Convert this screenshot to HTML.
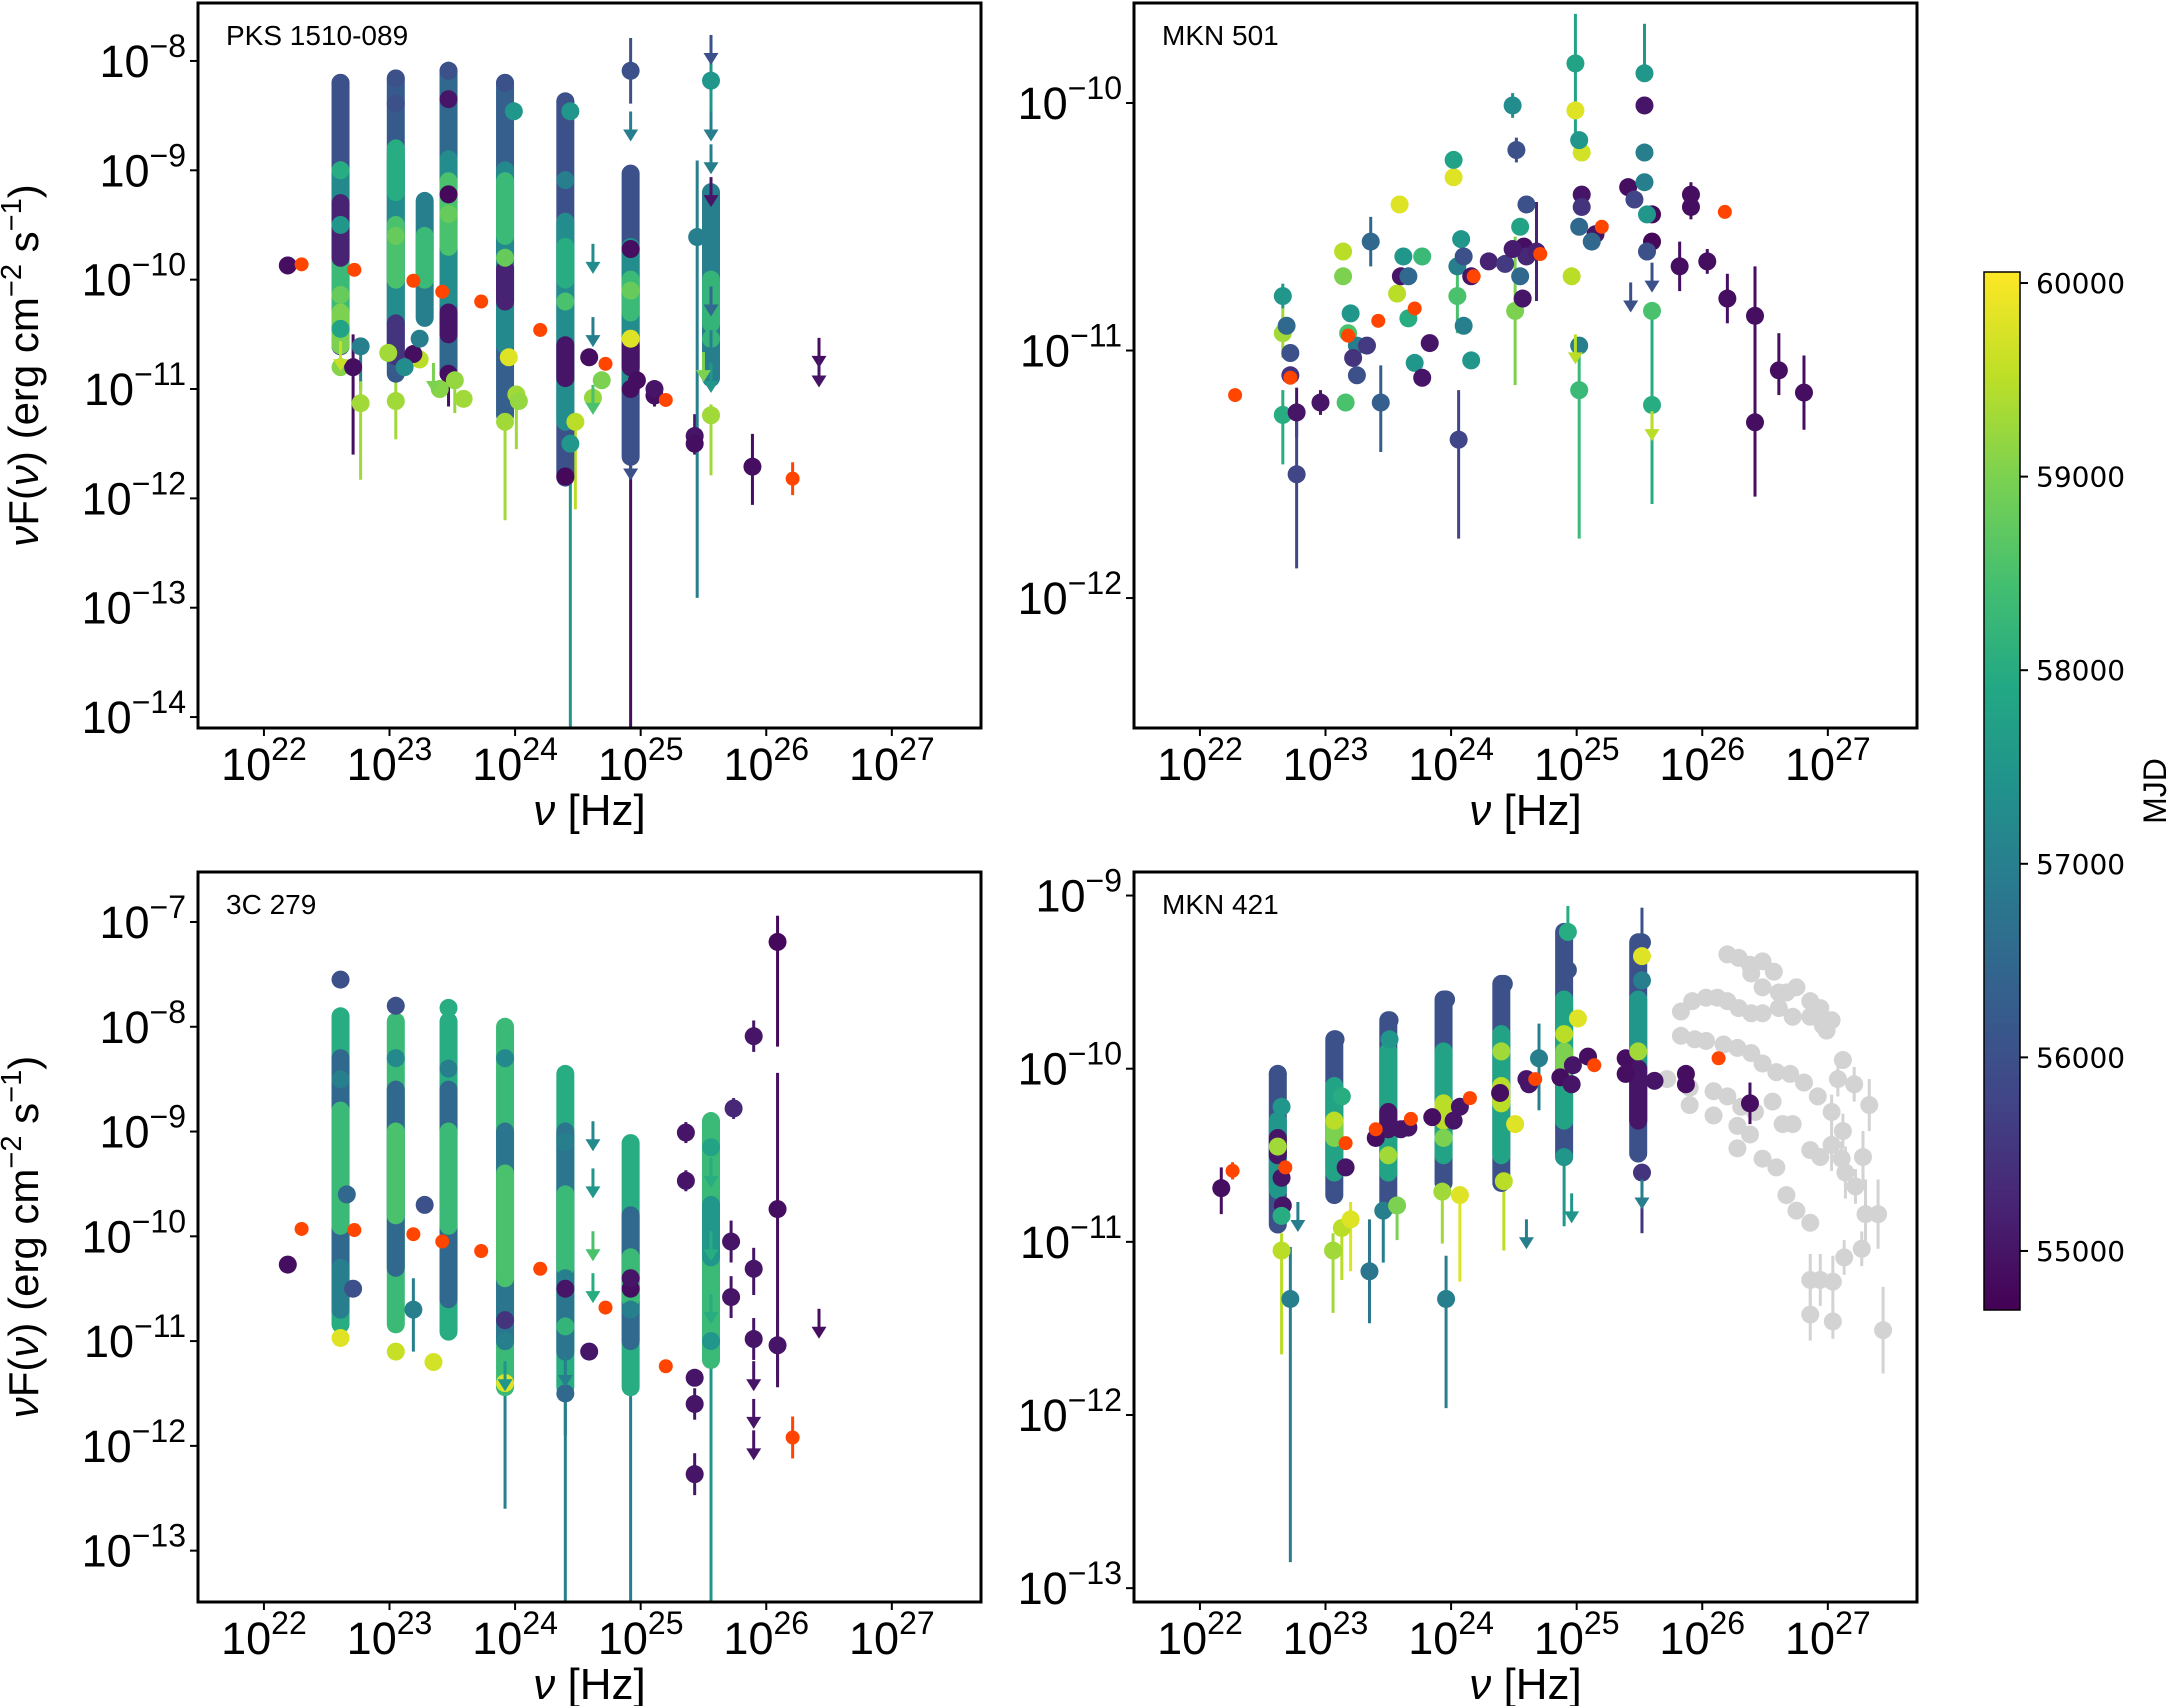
<!DOCTYPE html>
<html><head><meta charset="utf-8"><title>Blazar SEDs</title>
<style>
html,body{margin:0;padding:0;background:#fff;}
svg{display:block;font-family:"Liberation Sans","DejaVu Sans",sans-serif;}
</style></head>
<body>
<svg id="fig" width="2170" height="1706" viewBox="0 0 2170 1706" xmlns="http://www.w3.org/2000/svg"></svg>
<script>
// ---------- DATA (log10 nu [Hz], log10 nuFnu, MJD, err-down dex, err-up dex) ----------
const xTicks=[22,23,24,25,26,27];
const cbTicks=[55000,56000,57000,58000,59000,60000];
// PKS 1510-089
const p1Bands=[[22.61,-10.61,-8.20,56000],[22.61,-10.3,-9.0,57200],[22.61,-10.5,-9.6,58300],[22.61,-9.8,-9.3,55200],[22.61,-10.6,-10.3,59000],
[23.05,-10.86,-8.16,56200],[23.05,-10.4,-8.9,57300],[23.05,-10.0,-9.5,58500],[23.05,-9.2,-8.8,58000],[23.05,-10.7,-10.4,55500],
[23.28,-10.35,-9.28,57000],[23.28,-10.0,-9.6,58300],
[23.47,-10.86,-8.09,56500],[23.47,-10.2,-8.9,57300],[23.47,-9.7,-9.1,58500],[23.47,-10.5,-10.3,55000],
[23.92,-11.24,-8.20,56300],[23.92,-10.6,-9.0,57200],[23.92,-9.6,-9.1,58300],[23.92,-10.2,-9.9,55200],
[24.40,-11.81,-8.37,56000],[24.40,-11.3,-9.47,57300],[24.40,-10.0,-9.7,58000],[24.40,-10.9,-10.6,55000],
[24.92,-11.62,-9.03,56000],[24.92,-11.0,-9.7,57300],[24.92,-10.3,-10.0,58300],[24.92,-10.8,-10.6,55000],
[25.56,-10.9,-9.2,57000],[25.56,-10.4,-10.0,58200]];
const p1Pts=[[22.61,-8.2,56000,0,0],[22.19,-9.87,54900,0.08,0.08],[22.61,-10.6,59000,0,0],[22.61,-10.8,59100,0,0],[22.71,-10.8,54900,0.8,0.3],[22.77,-10.61,57000,0.4,0],[22.77,-11.13,59300,0.7,0.2],[22.61,-10.14,58800,0,0],[23.05,-8.16,56000,0,0],[23.05,-8.39,56000,0,0],[23.05,-11.11,59300,0.35,0.2],[22.99,-10.67,59300,0,0],[23.24,-10.73,59500,0,0],[23.19,-10.68,54900,0,0],[23.24,-10.54,57000,0,0],[23.12,-10.8,57300,0,0],[23.47,-8.09,56000,0,0],[23.47,-9.22,54800,0,0],[23.47,-10.86,54900,0.3,0],[23.52,-10.92,59200,0.3,0],[23.59,-11.09,59300,0,0],[23.40,-11.0,59100,0,0],[23.92,-8.2,56000,0,0],[23.99,-8.46,57500,0,0],[23.92,-11.3,59300,0.9,0.3],[23.95,-10.71,59800,0,0],[24.01,-11.05,59300,0.5,0],[24.03,-11.11,59200,0,0],[24.40,-8.37,56000,0,0],[24.44,-8.46,57500,0,0],[24.40,-9.09,57000,0,0],[24.40,-11.8,54800,0,0.3],[24.44,-11.5,57500,2.6,0.6],[24.59,-10.71,54900,0,0],[24.69,-10.92,59000,0,0],[24.62,-11.08,59200,0,0],[24.48,-11.3,59500,0.8,0],[24.92,-8.09,56000,0.3,0.3],[24.92,-10.54,59800,0,0],[24.92,-11.0,54900,0.2,0],[24.92,-9.72,54900,4.4,0],[24.97,-10.92,54900,0,0],[25.11,-11.06,54900,0.1,0.1],[25.11,-11.0,55000,0,0],[25.43,-11.43,55000,0.15,0.2],[25.43,-11.5,54900,0.1,0.1],[25.45,-9.61,57000,3.3,0.7],[25.56,-8.18,57500,0.35,0.4],[25.56,-11.24,59300,0.55,0.1],[25.56,-10.54,58200,0,0],[25.89,-11.71,54900,0.35,0.3],
[22.61,-9.0,58000,0,0],[22.61,-9.5,57500,0,0],[23.05,-9.6,58800,0,0],[23.47,-9.4,58800,0,0],[23.92,-9.8,58800,0,0],[24.40,-10.2,58500,0,0],[24.92,-10.1,58800,0,0],[23.47,-8.35,55000,0,0],[22.61,-10.45,57800,0,0]];
const p1UL=[[24.62,-9.91,57300],[24.62,-10.58,57000],[24.62,-11.2,58500],[24.92,-8.7,57000],[24.92,-11.8,56000],[25.56,-8.0,56000],[25.56,-8.7,57000],[25.56,-9.0,57000],[25.56,-9.3,55000],[25.56,-10.3,56500],[25.56,-10.7,57000],[25.56,-11.0,57500],[25.50,-10.9,59000],[26.42,-10.77,54900],[26.42,-10.95,55000],[23.35,-11.0,59000],[22.61,-10.8,59600]];
const p1Ref=[[22.30,-9.86,0.03],[22.72,-9.91,0.03],[23.19,-10.01,0.03],[23.42,-10.11,0.03],[23.73,-10.20,0.03],[24.20,-10.46,0.03],[24.72,-10.77,0.03],[25.20,-11.10,0.03],[26.21,-11.82,0.15]];
// MKN 501
const p2Bands=[];
const p2Pts=[[22.66,-10.78,57500,0.05,0.05],[22.66,-10.93,59300,0.1,0.1],[22.72,-11.01,56000,0,0],[22.66,-11.26,58000,0.2,0.1],[22.77,-11.25,55000,0.1,0.1],[22.77,-11.50,55800,0.38,0.25],[22.96,-11.21,55000,0.05,0.05],[23.14,-10.60,59500,0,0],[23.14,-10.70,59000,0,0],[23.18,-10.93,58500,0,0],[23.25,-10.98,57000,0,0],[23.16,-11.21,58500,0,0],[23.22,-11.03,55500,0,0],[23.33,-10.98,55600,0,0],[23.44,-11.21,56300,0.2,0.15],[23.36,-10.56,56500,0.1,0.1],[23.57,-10.77,59500,0,0],[23.60,-10.70,55000,0,0],[23.66,-10.87,58000,0,0],[23.59,-10.41,59800,0,0],[23.71,-11.05,57500,0,0],[23.77,-11.11,55000,0,0],[23.83,-10.97,55000,0,0],[23.77,-10.62,58300,0,0],[24.05,-10.66,57000,0,0],[24.05,-10.78,58500,0.15,0.15],[24.02,-10.30,59800,0,0],[24.02,-10.23,57800,0,0],[24.06,-11.36,55800,0.4,0.2],[24.10,-10.90,57000,0,0],[24.16,-11.04,57500,0,0],[24.16,-10.70,55000,0,0],[24.30,-10.64,55200,0,0],[24.43,-10.65,55600,0,0],[24.49,-10.01,57300,0.05,0.05],[24.52,-10.19,56000,0.05,0.05],[24.58,-10.58,54900,0,0],[24.60,-10.41,56000,0,0],[24.51,-10.84,59000,0.3,0.3],[24.57,-10.79,55000,0,0],[24.60,-10.62,55300,0,0],[24.68,-10.60,55200,0.2,0.2],[24.49,-10.59,55100,0,0],[24.99,-9.84,57800,0.3,0.2],[24.99,-10.03,59800,0,0],[25.04,-10.20,59700,0,0],[25.04,-10.37,55000,0,0],[24.96,-10.70,59500,0,0],[25.02,-11.16,58300,0.6,0.2],[25.02,-10.98,57000,0,0],[25.04,-10.42,55500,0,0],[25.15,-10.53,55000,0,0],[25.12,-10.56,56500,0,0],[25.41,-10.34,54900,0,0],[25.46,-10.39,55800,0,0],[25.54,-9.88,57500,0,0.2],[25.54,-10.01,55000,0,0],[25.54,-10.20,57000,0,0],[25.54,-10.32,57000,0,0],[25.60,-10.56,54800,0,0],[25.60,-10.45,54800,0,0],[25.60,-11.22,58000,0.4,0.4],[25.60,-10.84,58500,0,0],[25.82,-10.66,54900,0.1,0.1],[25.91,-10.37,54900,0.05,0.05],[25.91,-10.42,54900,0.05,0.05],[26.04,-10.64,54900,0.05,0.05],[26.20,-10.79,54900,0.1,0.1],[26.42,-10.86,54900,0.2,0.2],[26.42,-11.29,54900,0.3,0.3],[26.61,-11.08,54900,0.1,0.15],[26.81,-11.17,54900,0.15,0.15],
[22.69,-10.9,56500,0,0],[22.72,-11.1,55500,0,0],[23.20,-10.85,57500,0,0],[23.25,-11.1,56000,0,0],[23.62,-10.62,57500,0,0],[23.66,-10.7,56500,0,0],[24.08,-10.55,57500,0,0],[24.10,-10.62,56000,0,0],[24.55,-10.5,57800,0,0],[24.55,-10.7,56500,0,0],[25.02,-10.15,57500,0,0],[25.02,-10.5,56500,0,0],[25.56,-10.45,57500,0,0],[25.56,-10.6,56000,0,0]];
const p2UL=[[25.43,-10.83,56000],[24.99,-11.04,59500],[25.60,-11.35,59500],[25.60,-10.75,56000]];
const p2Ref=[[22.28,-11.18,0.03],[22.72,-11.11,0.03],[23.18,-10.94,0.03],[23.42,-10.88,0.03],[23.71,-10.83,0.03],[24.18,-10.70,0.03],[24.71,-10.61,0.03],[25.20,-10.50,0.03],[26.18,-10.44,0.03]];
// 3C 279
const p3Bands=[[22.61,-10.84,-7.9,58000],[22.61,-10.6,-8.3,56500],[22.61,-9.9,-8.8,58300],[22.61,-10.7,-10.3,57000],
[23.05,-10.84,-7.95,58300],[23.05,-10.3,-8.6,56500],[23.05,-9.8,-9.0,58500],
[23.47,-10.91,-7.95,58000],[23.47,-10.6,-8.6,56500],[23.47,-9.9,-9.0,58300],
[23.92,-11.44,-8.0,58300],[23.92,-11.0,-9.0,56800],[23.92,-10.4,-9.4,58500],
[24.40,-11.44,-8.45,58000],[24.40,-11.1,-9.0,56800],[24.40,-10.3,-9.6,58300],
[24.92,-11.44,-9.11,58000],[24.92,-11.0,-9.8,56500],[24.92,-10.6,-10.2,58300],
[25.56,-11.18,-8.9,58300],[25.56,-10.2,-9.7,57500]];
const p3Pts=[[22.61,-7.55,56000,0,0],[22.61,-10.97,59800,0,0],[22.71,-10.5,56000,0,0],[23.05,-7.8,56000,0,0],[23.05,-11.1,59600,0,0],[23.19,-10.7,57000,0.4,0.3],[23.35,-11.2,59700,0,0],[23.28,-9.7,56000,0,0],[23.47,-7.82,58000,0,0],[23.92,-11.4,59800,0,0],[23.92,-11.0,57000,1.6,0.4],[24.40,-10.86,58200,0,0],[24.40,-11.5,56500,0.4,0.3],[24.40,-10.4,57000,3.1,0.4],[24.59,-11.1,55000,0,0],[24.92,-10.5,54900,0,0],[24.92,-10.7,57000,2.8,0.3],[22.19,-10.27,54900,0.05,0.05],[25.36,-9.01,55000,0.1,0.1],[25.36,-9.47,55000,0.1,0.1],[25.43,-11.35,55000,0,0],[25.43,-11.60,55000,0.15,0.15],[25.43,-12.27,55000,0.2,0.2],[25.56,-9.15,57800,0.2,0.2],[25.56,-11.0,57500,2.5,0],[25.72,-10.05,55000,0.2,0.2],[25.72,-10.58,55000,0.2,0.2],[25.74,-8.78,55300,0.1,0.1],[25.90,-8.09,55000,0.15,0.15],[25.90,-10.31,55000,0.25,0.2],[25.90,-10.98,55000,0.2,0.2],[26.09,-7.19,54800,1.0,0.25],[26.09,-9.74,54900,1.7,1.3],[26.09,-11.04,55000,0.3,0.3],
[22.61,-8.5,57000,0,0],[22.66,-9.6,56500,0,0],[23.05,-8.3,57200,0,0],[23.47,-8.4,57000,0,0],[23.92,-8.3,57200,0,0],[23.92,-10.8,55500,0,0],[24.40,-10.5,55000,0,0],[24.92,-10.4,55000,0,0],[24.40,-9.1,57000,0,0]];
const p3UL=[[24.62,-9.15,57200],[24.62,-9.6,57500],[24.62,-10.2,58500],[24.62,-10.6,58000],[24.92,-11.4,58000],[25.56,-9.5,58000],[25.56,-10.2,58000],[25.56,-10.8,58000],[25.90,-11.44,55000],[25.90,-11.8,55000],[25.90,-12.1,55000],[26.42,-10.94,54900],[24.40,-11.4,57000],[23.92,-11.44,57500]];
const p3Ref=[[22.30,-9.93,0.03],[22.72,-9.94,0.03],[23.19,-9.98,0.03],[23.42,-10.05,0.03],[23.73,-10.14,0.03],[24.20,-10.31,0.03],[24.72,-10.68,0.03],[25.20,-11.24,0.03],[26.21,-11.92,0.2]];
// MKN 421
const p4Bands=[[22.62,-10.9,-10.03,56000],[22.62,-10.7,-10.3,57500],[22.62,-10.5,-10.4,55000],
[23.07,-10.73,-9.83,56000],[23.07,-10.6,-10.1,57800],[23.07,-10.4,-10.3,59000],
[23.50,-10.79,-9.72,56000],[23.50,-10.6,-9.9,57800],[23.50,-10.35,-10.25,55000],
[23.94,-10.66,-9.60,56000],[23.94,-10.5,-9.9,57800],[23.94,-10.3,-10.2,59500],
[24.40,-10.66,-9.51,56000],[24.40,-10.5,-9.8,57800],[24.40,-10.2,-10.1,59500],
[24.90,-10.51,-9.21,56000],[24.90,-10.3,-9.6,57800],[24.90,-10.0,-9.9,59000],
[25.49,-10.49,-9.27,56000],[25.49,-10.3,-9.6,57500],[25.49,-10.3,-10.0,55000]];
const p4Pts=[[22.17,-10.69,54900,0.15,0.12],[22.62,-10.03,56000,0,0.05],[22.65,-10.22,57500,0,0],[22.65,-10.63,55000,0,0],[22.66,-10.79,55000,0,0],[22.65,-10.85,58000,0,0],[22.65,-11.05,59500,0.6,0.1],[22.72,-11.33,57000,1.52,0.3],[23.08,-9.83,56000,0,0],[23.13,-10.16,58000,0,0],[23.16,-10.57,55000,0,0],[23.06,-11.05,59300,0.36,0.1],[23.13,-10.92,59500,0.3,0],[23.20,-10.87,59800,0.3,0.1],[23.35,-11.17,56800,0.3,0.3],[23.51,-9.72,56000,0,0],[23.51,-9.83,57500,0,0],[23.46,-10.82,57000,0.3,0.2],[23.57,-10.79,59000,0.2,0],[23.60,-10.35,55000,0,0],[23.40,-10.40,54900,0,0],[23.66,-10.34,55000,0,0],[23.96,-9.60,56000,0,0.05],[23.96,-11.33,57000,0.63,0.25],[23.93,-10.71,59300,0.3,0],[24.07,-10.73,59800,0.5,0],[23.85,-10.28,54900,0,0],[24.07,-10.22,55000,0,0],[24.02,-10.30,55000,0,0],[24.42,-9.51,56000,0,0.05],[24.42,-10.65,59500,0.4,0.1],[24.51,-10.32,59800,0,0],[24.39,-10.14,54900,0,0],[24.60,-10.06,55000,0,0],[24.62,-10.09,55000,0,0],[24.70,-9.94,57000,0.3,0.2],[24.93,-9.21,58000,0,0.15],[24.93,-9.43,56000,0,0],[25.01,-9.71,59800,0,0],[24.90,-10.51,57500,0.4,0],[24.87,-10.05,54900,0,0],[24.97,-9.98,55000,0,0],[25.09,-9.93,54900,0,0],[24.96,-10.09,55000,0,0],[25.52,-9.27,56000,0,0.2],[25.52,-9.35,59800,0,0],[25.52,-9.49,57000,0,0],[25.39,-9.94,54900,0,0],[25.39,-10.03,54900,0,0],[25.62,-10.07,55000,0,0],[25.52,-10.6,55500,0.35,0],[25.87,-10.03,54900,0,0],[25.87,-10.09,54900,0,0],[26.38,-10.20,54900,0.12,0.12],
[22.62,-10.45,59300,0,0],[23.07,-10.3,59500,0,0],[23.50,-10.5,59300,0,0],[23.94,-10.4,59000,0,0],[24.40,-9.9,59300,0,0],[24.90,-9.8,59500,0,0],[25.49,-9.9,59300,0,0]];
const p4UL=[[22.78,-10.92,57000],[24.60,-11.02,57000],[24.96,-10.87,57500],[25.52,-10.79,57000]];
const p4Ref=[[22.26,-10.59,0.05],[22.68,-10.57,0.03],[23.16,-10.43,0.03],[23.40,-10.35,0.03],[23.68,-10.29,0.03],[24.15,-10.17,0.03],[24.67,-10.06,0.03],[25.14,-9.98,0.03],[26.13,-9.94,0.03]];
const p4Gray=[[26.20,-9.34,0],[26.29,-9.36,0],[26.38,-9.40,0],[26.48,-9.38,0],[26.57,-9.44,0],[26.39,-9.45,0],[26.48,-9.53,0],[26.61,-9.56,0],[26.67,-9.56,0],[26.75,-9.53,0],[26.86,-9.61,0.05],[26.94,-9.65,0.05],[27.03,-9.72,0.05],[26.99,-9.78,0.05],[27.12,-9.95,0.05],[25.83,-9.67,0],[25.92,-9.61,0],[26.03,-9.59,0],[26.12,-9.59,0],[26.20,-9.61,0],[26.29,-9.65,0],[26.39,-9.68,0],[26.48,-9.68,0],[26.61,-9.65,0],[26.72,-9.70,0],[26.86,-9.70,0],[26.96,-9.75,0],[25.83,-9.81,0],[25.94,-9.83,0],[26.03,-9.84,0],[26.17,-9.86,0],[26.28,-9.88,0],[26.39,-9.91,0],[26.48,-9.97,0],[26.59,-10.02,0],[26.70,-10.03,0],[26.81,-10.08,0],[26.92,-10.16,0.05],[27.03,-10.25,0.1],[27.12,-10.36,0.1],[25.72,-10.06,0],[25.90,-10.11,0],[26.09,-10.13,0],[26.20,-10.16,0],[26.31,-10.22,0],[26.42,-10.25,0],[26.56,-10.19,0],[26.64,-10.32,0],[26.72,-10.32,0],[26.86,-10.47,0.05],[26.94,-10.51,0.05],[27.11,-10.52,0.1],[27.22,-10.68,0.1],[27.33,-10.21,0.15],[27.21,-10.09,0.1],[27.08,-10.06,0.1],[25.90,-10.21,0],[26.09,-10.27,0],[26.28,-10.33,0],[26.38,-10.38,0],[26.28,-10.46,0],[26.48,-10.52,0],[26.59,-10.57,0],[26.67,-10.73,0.05],[26.75,-10.82,0.05],[26.86,-10.89,0.05],[27.03,-10.44,0.15],[27.14,-10.60,0.15],[27.28,-10.51,0.15],[27.30,-10.84,0.2],[27.40,-10.84,0.2],[27.27,-11.04,0.1],[27.13,-11.09,0.1],[26.86,-11.22,0.15],[26.94,-11.22,0.15],[27.04,-11.23,0.15],[26.86,-11.42,0.15],[27.04,-11.46,0.1],[27.44,-11.51,0.25]];

// ---------- LAYOUT ----------
const NS="http://www.w3.org/2000/svg";
const svg=document.getElementById('fig');
function mk(tag,attrs,parent){const e=document.createElementNS(NS,tag);for(const k in attrs)e.setAttribute(k,attrs[k]);(parent||svg).appendChild(e);return e;}
const VIR=["#440154","#482475","#414487","#355f8d","#2a788e","#21918c","#22a884","#44bf70","#7ad151","#bddf26","#fde725"];
const CMIN=54695,CMAX=60057;
function hex(h){return [parseInt(h.substr(1,2),16),parseInt(h.substr(3,2),16),parseInt(h.substr(5,2),16)];}
function vir(m){let t=(m-CMIN)/(CMAX-CMIN);t=Math.max(0,Math.min(1,t));const f=t*10,i=Math.min(9,Math.floor(f)),r=f-i;const a=hex(VIR[i]),b=hex(VIR[i+1]);return 'rgb('+a.map((v,k)=>Math.round(v+(b[k]-v)*r)).join(',')+')';}

const panels=[
 {name:'pks-1510-089',label:'PKS 1510-089',x0:198,x1:981,y0:3,y1:728,xmin:21.475,xmax:27.71,ymin:-14.10,ymax:-7.47,yt:[-14,-13,-12,-11,-10,-9,-8],ylab:true,bands:p1Bands,pts:p1Pts,ul:p1UL,ref:p1Ref,gray:[]},
 {name:'mkn-501',label:'MKN 501',x0:1134,x1:1917,y0:3,y1:728,xmin:21.475,xmax:27.71,ymin:-12.525,ymax:-9.596,yt:[-12,-11,-10],ylab:false,bands:p2Bands,pts:p2Pts,ul:p2UL,ref:p2Ref,gray:[]},
 {name:'3c-279',label:'3C 279',x0:198,x1:981,y0:872,y1:1602,xmin:21.475,xmax:27.71,ymin:-13.49,ymax:-6.523,yt:[-13,-12,-11,-10,-9,-8,-7],ylab:true,bands:p3Bands,pts:p3Pts,ul:p3UL,ref:p3Ref,gray:[]},
 {name:'mkn-421',label:'MKN 421',x0:1134,x1:1917,y0:872,y1:1602,xmin:21.475,xmax:27.71,ymin:-13.08,ymax:-8.864,yt:[-13,-12,-11,-10,-9],ylab:false,bands:p4Bands,pts:p4Pts,ul:p4UL,ref:p4Ref,gray:p4Gray}
];
const R=9;
panels.forEach(P=>{
 const X=v=>P.x0+(v-P.xmin)/(P.xmax-P.xmin)*(P.x1-P.x0);
 const Y=v=>P.y1-(v-P.ymin)/(P.ymax-P.ymin)*(P.y1-P.y0);
 const g=mk('g',{});
 
 
 const cid='clip-'+P.name;
 const cp=mk('clipPath',{id:cid},g);mk('rect',{x:P.x0,y:P.y0,width:P.x1-P.x0,height:P.y1-P.y0},cp);
 const plot=mk('g',{'clip-path':'url(#'+cid+')'},g);
 
 
 P.gray.forEach(d=>{
  if(d[2]>0){mk('line',{x1:X(d[0]),x2:X(d[0]),y1:Y(d[1]-d[2]),y2:Y(d[1]+d[2]),stroke:'#d3d3d3','stroke-width':3},plot);}
  const c=mk('circle',{cx:X(d[0]),cy:Y(d[1]),r:R,fill:'#d3d3d3'},plot);
  
  
 });
 P.pts.forEach(d=>{if(d[3]>0||d[4]>0){const l=mk('line',{x1:X(d[0]),x2:X(d[0]),y1:Y(d[1]-d[3]),y2:Y(d[1]+d[4]),stroke:vir(d[2]),'stroke-width':3},plot);
  
  }});
 P.bands.forEach(b=>{const l=mk('line',{x1:X(b[0]),x2:X(b[0]),y1:Y(b[1]),y2:Y(b[2]),stroke:vir(b[3]),'stroke-width':2*R,'stroke-linecap':'round'},plot);
  
  });
 P.pts.forEach(d=>{const c=mk('circle',{cx:X(d[0]),cy:Y(d[1]),r:R,fill:vir(d[2])},plot);
  
  });
 P.ul.forEach(d=>{const x=X(d[0]),y=Y(d[1]),col=vir(d[2]);
  const a=mk('g',{},plot);
  
  
  mk('line',{x1:x,x2:x,y1:y-26,y2:y-4,stroke:col,'stroke-width':3},a);
  mk('polygon',{points:(x-7.5)+','+(y-8)+' '+(x+7.5)+','+(y-8)+' '+x+','+(y+4),fill:col},a);});
 P.ref.forEach(d=>{
  if(d[2]>0.04){mk('line',{x1:X(d[0]),x2:X(d[0]),y1:Y(d[1]-d[2]),y2:Y(d[1]+d[2]),stroke:'#ff4500','stroke-width':3},plot);}
  const c=mk('circle',{cx:X(d[0]),cy:Y(d[1]),r:7,fill:'#ff4500'},plot);
  
  });
 const fr=mk('rect',{x:P.x0,y:P.y0,width:P.x1-P.x0,height:P.y1-P.y0,fill:'none',stroke:'#000','stroke-width':3},g);
 
 
 xTicks.forEach(t=>{const x=X(t);mk('line',{x1:x,x2:x,y1:P.y1,y2:P.y1+8,stroke:'#000','stroke-width':2},g);
  const tx=mk('text',{x:x,y:P.y1+52,'font-size':45,'text-anchor':'middle',fill:'#000'},g);
  
  
  tx.innerHTML='10<tspan dy="-20" font-size="32">'+t+'</tspan>';});
 P.yt.forEach(t=>{const y=Y(t);mk('line',{x1:P.x0-8,x2:P.x0,y1:y,y2:y,stroke:'#000','stroke-width':2},g);
  const tx=mk('text',{x:P.x0-12,y:y+16,'font-size':45,'text-anchor':'end',fill:'#000'},g);
  
  
  tx.innerHTML='10<tspan dy="-20" font-size="32">\u2212'+(-t)+'</tspan>';});
 const lb=mk('text',{x:P.x0+28,y:P.y0+42,'font-size':28,fill:'#000'},g);
 lb.textContent=P.label;
 
 
 const xl=mk('text',{x:(P.x0+P.x1)/2,y:P.y1+97,'font-size':44,'text-anchor':'middle',fill:'#000'},g);
 xl.innerHTML='<tspan font-style="italic">\u03bd</tspan> [Hz]';
 
 
 if(P.ylab){const cy=(P.y0+P.y1)/2;
  const yl=mk('text',{x:0,y:0,'font-size':42,'text-anchor':'middle',fill:'#000',transform:'translate(38,'+cy+') rotate(-90)'},g);
  yl.innerHTML='<tspan font-style="italic">\u03bd</tspan>F(<tspan font-style="italic">\u03bd</tspan>) (erg cm<tspan dy="-17" font-size="29">\u22122</tspan><tspan dy="17"> s</tspan><tspan dy="-17" font-size="29">\u22121</tspan><tspan dy="17">)</tspan>';
  
  }
});
const cb=mk('g',{});


const defs=mk('defs',{},cb);
const lg=mk('linearGradient',{id:'virgrad',x1:0,y1:1,x2:0,y2:0},defs);
VIR.forEach((c,i)=>mk('stop',{offset:(i/10),'stop-color':c},lg));
const CBX=1984,CBW=36,CBT=272,CBB=1310;
mk('rect',{x:CBX,y:CBT,width:CBW,height:CBB-CBT,fill:'url(#virgrad)',stroke:'#000','stroke-width':1.5},cb);
const CY=m=>CBB-(m-CMIN)/(CMAX-CMIN)*(CBB-CBT);
cbTicks.forEach(m=>{const y=CY(m);mk('line',{x1:CBX+CBW,x2:CBX+CBW+8,y1:y,y2:y,stroke:'#000','stroke-width':2},cb);
 const t=mk('text',{x:CBX+CBW+16,y:y+10,'font-size':28,fill:'#000','font-family':'DejaVu Sans, sans-serif'},cb);
 t.textContent=String(m);
 
 });
const mj=mk('text',{x:0,y:0,'font-size':32,'text-anchor':'middle',fill:'#000',transform:'translate(2166,'+((CBT+CBB)/2)+') rotate(-90)'},cb);
mj.textContent='MJD';


</script>
</body></html>
